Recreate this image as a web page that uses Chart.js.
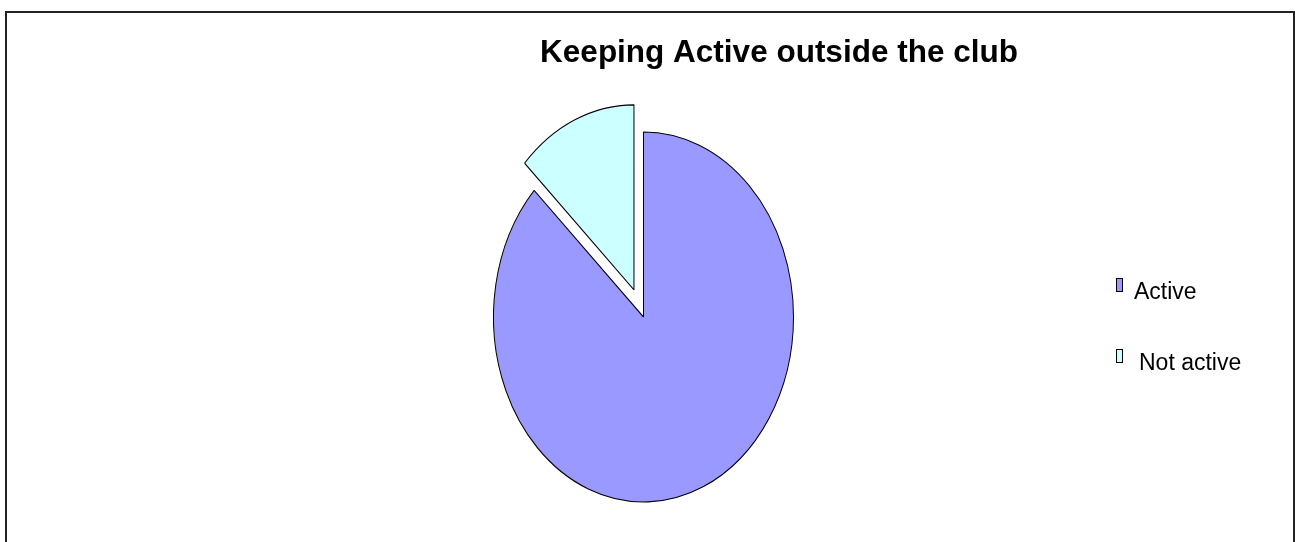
<!DOCTYPE html>
<html>
<head>
<meta charset="utf-8">
<title>Keeping Active outside the club</title>
<script src="https://cdn.jsdelivr.net/npm/chart.js@4/dist/chart.umd.min.js"></script>
<style>
  html, body { margin: 0; padding: 0; background: #fff; overflow: hidden; }
  #frame {
    position: absolute; left: 5px; top: 11px;
    width: 1286px; height: 600px;
    border: 2px solid #222;
  }
  #activeChart { position: absolute; left: 0; top: 0; }
</style>
</head>
<body>
<div id="frame"></div>
<canvas id="activeChart" width="1295" height="542"></canvas>
<script>
const chartTitle = "Keeping Active outside the club";
const labels = ["Active", "Not active"];
const shares = [87, 13];
const sliceColors = ["#9999FF", "#CCFFFF"];
// how far each slice is pulled out of the pie, in px
const explodePx = [0, 24];

// pie is drawn taller than wide
const stretchY = 185 / 150;

// pull slices out along their mid angle without growing their radius
const explodeSlices = {
    id: "explodeSlices",
    afterDatasetUpdate(chart, args) {
        args.meta.data.forEach((arc, i) => {
            const d = explodePx[i] || 0;
            if (!d) return;
            const mid = (arc.startAngle + arc.endAngle) / 2;
            arc.x += Math.cos(mid) * d;
            arc.y += Math.sin(mid) * d;
        });
    },
};

const ovalPie = {
    id: "ovalPie",
    beforeDatasetsDraw(chart) {
        const arc = chart.getDatasetMeta(0).data[0];
        const ctx = chart.ctx;
        ctx.save();
        ctx.translate(arc.x, arc.y);
        ctx.scale(1, stretchY);
        ctx.translate(-arc.x, -arc.y);
    },
    afterDatasetsDraw(chart) {
        chart.ctx.restore();
    },
};

const titleAndKey = {
    id: "titleAndKey",
    afterDraw(chart) {
        const ctx = chart.ctx;
        const ds = chart.data.datasets[0];
        ctx.save();
        ctx.fillStyle = "#000";
        ctx.textAlign = "center";
        ctx.font = 'bold 31.5px "Liberation Sans", Arial, sans-serif';
        ctx.fillText(chartTitle, 779, 62);

        ctx.textAlign = "left";
        ctx.font = '23px "Liberation Sans", Arial, sans-serif';
        ctx.lineWidth = 1;
        chart.data.labels.forEach((label, i) => {
            const rowY = 299 + i * 71;
            ctx.fillStyle = ds.backgroundColor[i];
            ctx.fillRect(1116, rowY - 21, 6, 13);
            ctx.strokeStyle = "#000";
            ctx.strokeRect(1116.5, rowY - 20.5, 6, 13);
            ctx.fillStyle = "#000";
            ctx.fillText(label, 1134 + i * 5, rowY);
        });
        ctx.restore();
    },
};

new Chart(document.getElementById("activeChart"), {
    type: "pie",
    data: {
        labels,
        datasets: [
            {
                data: shares,
                backgroundColor: sliceColors,
                borderColor: "#000",
                borderWidth: 1,
                clip: false,
            },
        ],
    },
    options: {
        responsive: false,
        animation: false,
        radius: 150,
        layout: {
            padding: { left: 0, right: 8, top: 92, bottom: 0 },
        },
        plugins: {
            legend: { display: false },
            title: { display: false },
            tooltip: { enabled: false },
        },
    },
    plugins: [explodeSlices, ovalPie, titleAndKey],
});
</script>
</body>
</html>
